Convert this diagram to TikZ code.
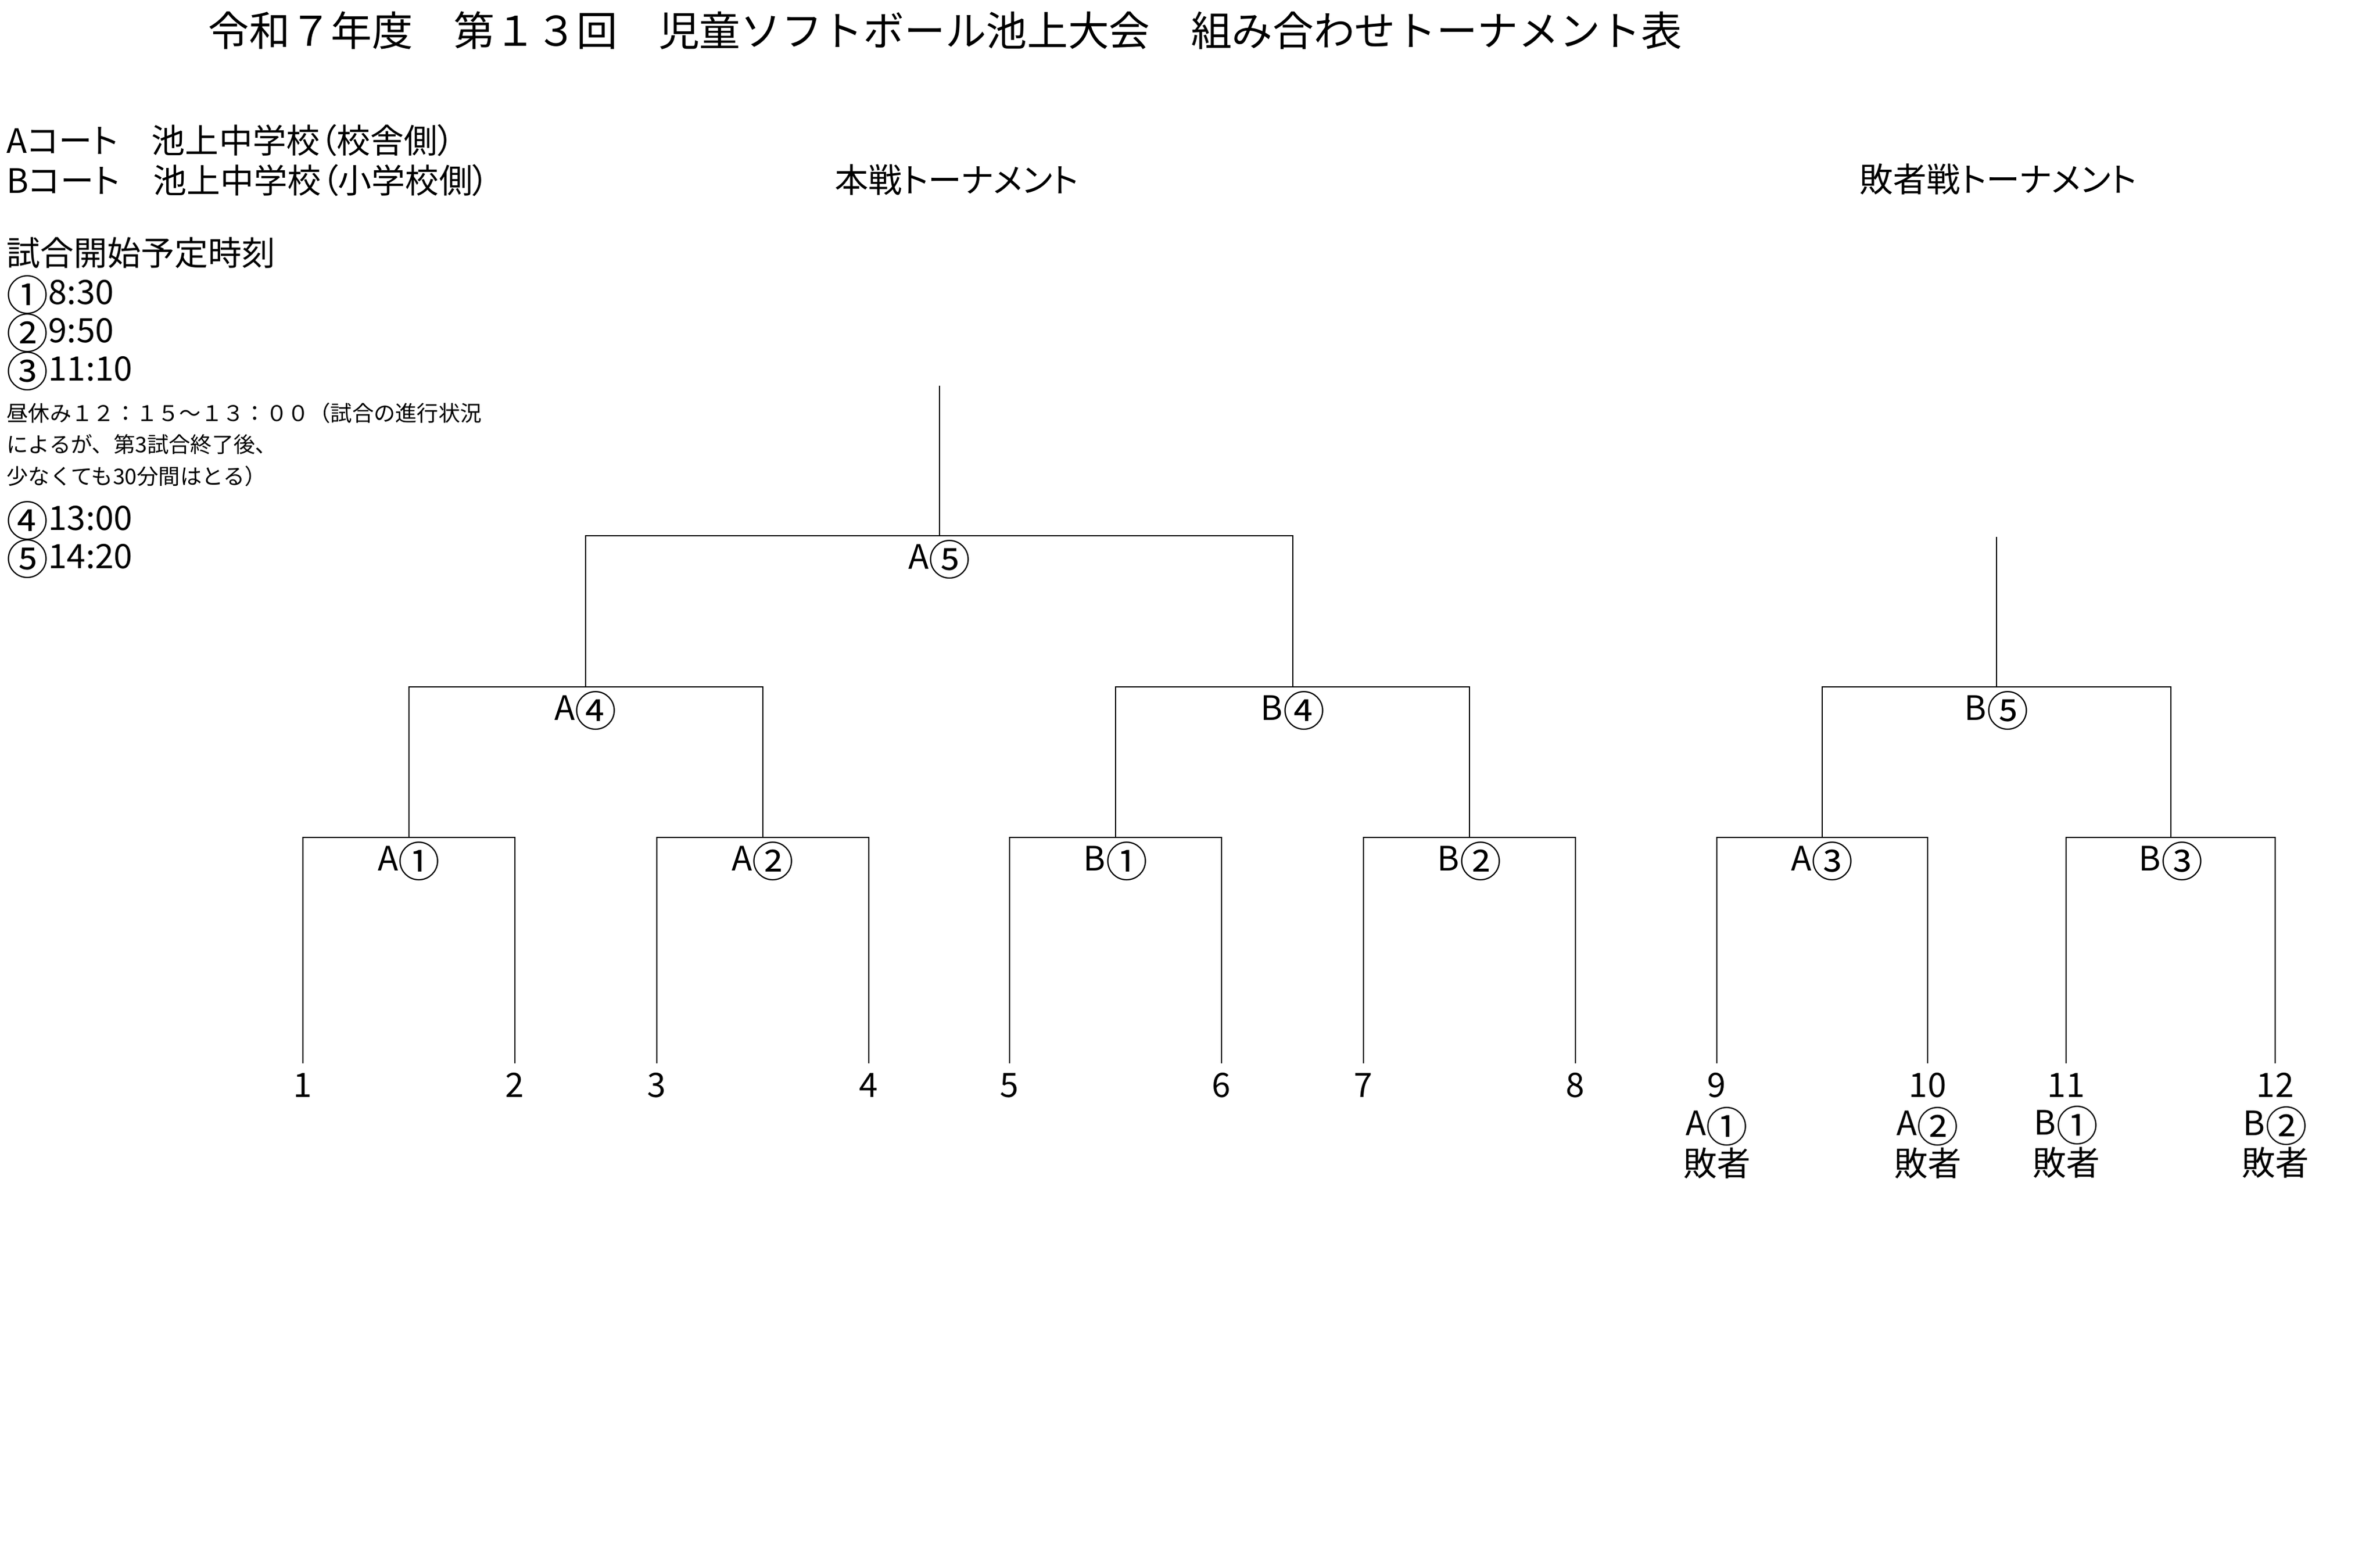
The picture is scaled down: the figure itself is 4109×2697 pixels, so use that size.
\documentclass[tikz,border=0pt]{standalone}
\usepackage{fontspec}
\newfontfamily\jpfont{Noto Sans CJK JP}[RawFeature=+palt]
\newfontfamily\jpfull{Noto Sans CJK JP}
\usetikzlibrary{positioning}
\newcommand\cnum[1]{\raisebox{-3.2pt}{\fontsize{20.5}{20}\selectfont #1}}
\tikzstyle{line} = [draw=black, line width=0.6pt]
\tikzstyle{heading} = [inner sep=0pt, font=\jpfull\fontsize{20.1}{24}\selectfont]
\tikzstyle{section} = [inner sep=0pt, font=\jpfont\fontsize{16.5}{20}\selectfont]
\tikzstyle{info} = [inner sep=0pt, anchor=west, font=\jpfont\fontsize{16.5}{20}\selectfont]
\tikzstyle{note} = [inner sep=0pt, anchor=west, font=\jpfull\fontsize{10.6}{12}\selectfont]
\tikzstyle{game} = [inner sep=0pt, font=\jpfont\fontsize{16.5}{20}\selectfont]
\tikzstyle{seed} = [inner sep=0pt, font=\jpfont\fontsize{16.5}{20}\selectfont]
\tikzstyle{loser} = [inner sep=0pt, align=center, font=\jpfont\fontsize{16.5}{18.5}\selectfont]

\begin{document}
\begin{tikzpicture}[x=0.01cm, y=-0.01cm, node distance=0.16cm]
		\useasboundingbox (0,0) rectangle (4109,2697);
		
		% Title
		\node[heading, anchor=west] (title) at (359,53) {令和７年度　第１３回　児童ソフトボール池上大会　組み合わせトーナメント表};
		
		% courts and start times
		\node[info] (courtA) at (11,242) {Aコート　池上中学校（校舎側）};
		\node[info] (courtB) at (11,311) {Bコート　池上中学校（小学校側）};
		\node[info] (times) at (11,437) {試合開始予定時刻};
		\node[info] (time1) at (11,509) {\cnum{①}8:30};
		\node[info] (time2) at (11,575) {\cnum{②}9:50};
		\node[info] (time3) at (11,641) {\cnum{③}11:10};
		\node[note] (lunch1) at (11,713) {昼休み１２：１５～１３：００（試合の進行状況};
		\node[note] (lunch2) at (11,767) {によるが、第3試合終了後、};
		\node[note] (lunch3) at (11,822) {少なくても30分間はとる）};
		\node[info] (time4) at (11,899) {\cnum{④}13:00};
		\node[info] (time5) at (11,965) {\cnum{⑤}14:20};
		
		% headings
		\node[section] (mainhead) at (1652,311) {本戦トーナメント};
		\node[section] (losehead) at (3450,309) {敗者戦トーナメント};
		
		% entries
		\foreach \i/\x in {1/523, 2/889, 3/1134, 4/1500, 5/1743, 6/2109, 7/2354, 8/2720, 9/2964, 10/3328, 11/3567, 12/3928} {
			\coordinate (l\i) at (\x,1836);
			\node[seed, below=of l\i] (s\i) {\i};
		}
		\node[loser, below=0.14cm of s9] (x9) {A\cnum{①}\\敗者};
		\node[loser, below=0.14cm of s10] (x10) {A\cnum{②}\\敗者};
		\node[loser, below=0.14cm of s11] (x11) {B\cnum{①}\\敗者};
		\node[loser, below=0.14cm of s12] (x12) {B\cnum{②}\\敗者};
		
		% first round
		\coordinate (m1) at (706,1446);
		\coordinate (m2) at (1317,1446);
		\coordinate (m3) at (1926,1446);
		\coordinate (m4) at (2537,1446);
		\coordinate (m5) at (3146,1446);
		\coordinate (m6) at (3748,1446);
		
		% second round and finals
		\coordinate (q1) at (1011,1186);
		\coordinate (q2) at (2232,1186);
		\coordinate (q3) at (3447,1186);
		\coordinate (f1) at (1622,925);
		\coordinate (top1) at (1622,666);
		\coordinate (top2) at (3447,927);
		
		% game labels
		\node[game, below=0.07cm of m1] (gA1) {A\cnum{①}};
		\node[game, below=0.07cm of m2] (gA2) {A\cnum{②}};
		\node[game, below=0.07cm of m3] (gB1) {B\cnum{①}};
		\node[game, below=0.07cm of m4] (gB2) {B\cnum{②}};
		\node[game, below=0.07cm of m5] (gA3) {A\cnum{③}};
		\node[game, below=0.07cm of m6] (gB3) {B\cnum{③}};
		\node[game, below=0.07cm of q1] (gA4) {A\cnum{④}};
		\node[game, below=0.07cm of q2] (gB4) {B\cnum{④}};
		\node[game, below=0.07cm of q3] (gB5) {B\cnum{⑤}};
		\node[game, below=0.07cm of f1] (gA5) {A\cnum{⑤}};
		
		% brackets
		\draw[line] (l1) |- (m1) -| (l2);
		\draw[line] (l3) |- (m2) -| (l4);
		\draw[line] (l5) |- (m3) -| (l6);
		\draw[line] (l7) |- (m4) -| (l8);
		\draw[line] (l9) |- (m5) -| (l10);
		\draw[line] (l11) |- (m6) -| (l12);
		\draw[line] (m1) |- (q1) -| (m2);
		\draw[line] (m3) |- (q2) -| (m4);
		\draw[line] (m5) |- (q3) -| (m6);
		\draw[line] (q1) |- (f1) -| (q2);
		\draw[line] (f1) -- (top1);
		\draw[line] (q3) -- (top2);
		
	\end{tikzpicture}
\end{document}
